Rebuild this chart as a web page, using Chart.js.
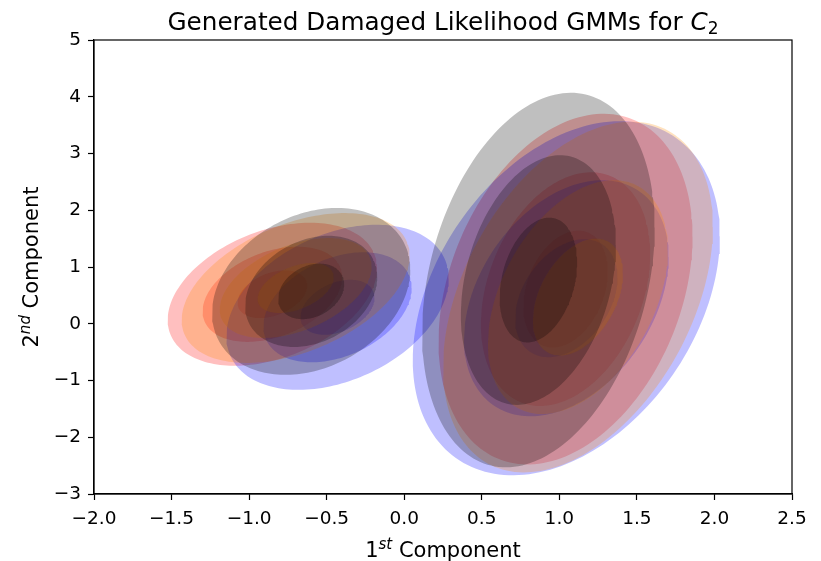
<!DOCTYPE html>
<html>
<head>
<meta charset="utf-8">
<script src="https://cdn.jsdelivr.net/npm/chart.js@4.4.0/dist/chart.umd.min.js"></script>
<style>
  html, body { margin: 0; padding: 0; background: #fff; }
  #wrap { width: 821px; height: 561px; }
</style>
</head>
<body>
<div id="wrap"><canvas id="chart" width="821" height="561"></canvas></div>
<script>
// Axis ticks
const xTicks = [-2.0, -1.5, -1.0, -0.5, 0.0, 0.5, 1.0, 1.5, 2.0, 2.5];
const yTicks = [-3, -2, -1, 0, 1, 2, 3, 4, 5];

// GMM components, one per colour and cluster (1-sigma half extents, correlation)
const compColor = ['red', 'red', 'blue', 'blue', 'darkorange', 'darkorange', 'black', 'black'];
const compX   = [-0.85, 1.04, -0.43, 1.045, -0.70, 1.12, -0.60, 0.865];
const compY   = [0.52, 0.61, 0.29, 0.45, 0.63, 0.47, 0.57, 0.77];
const compRx  = [0.225, 0.273, 0.239, 0.33, 0.245, 0.29, 0.213, 0.25];
const compRy  = [0.42, 1.03, 0.485, 1.04, 0.44, 1.03, 0.49, 1.10];
const compRho = [0.36, 0.30, 0.35, 0.35, 0.43, 0.40, 0.26, 0.28];
const sigmaLevels = [1, 2, 3];

const FONT = "'DejaVu Sans', sans-serif";
const fillColors = {
    black: 'rgba(0, 0, 0, 0.25)',
    red: 'rgba(255, 0, 0, 0.25)',
    darkorange: 'rgba(255, 140, 0, 0.25)',
    blue: 'rgba(0, 0, 255, 0.25)'
};

// Outline of an ellipse given its bounding half extents and tilt
function ellipsePoints(cx, cy, rx, ry, rho) {
    const pts = [];
    const s = Math.sqrt(1 - rho * rho);
    for (let k = 0; k <= 180; k++) {
        const t = 2 * Math.PI * k / 180;
        pts.push({
            x: cx + rx * Math.cos(t),
            y: cy + ry * (rho * Math.cos(t) + s * Math.sin(t))
        });
    }
    return pts;
}

// Build the datasets, drawn in the order they are listed
const datasets = [];
for (let i = 0; i < compColor.length; i++) {
    for (const n of sigmaLevels) {
        datasets.push({
            data: ellipsePoints(compX[i], compY[i], n * compRx[i], n * compRy[i], compRho[i]),
            showLine: true,
            fill: 'shape',
            backgroundColor: fillColors[compColor[i]],
            borderColor: 'transparent',
            borderWidth: 0,
            pointRadius: 0,
            pointHoverRadius: 0
        });
    }
}
datasets.forEach((d, i) => { d.order = datasets.length - i; });

function fmt(v, digits) {
    return (v < 0 ? '\u2212' : '') + Math.abs(v).toFixed(digits);
}

// Draw runs of text with mixed styles, centred on x
function drawRuns(ctx, runs, x, y) {
    let total = 0;
    runs.forEach(r => { ctx.font = r.font; r.w = ctx.measureText(r.text).width; total += r.w; });
    let cx = x - total / 2;
    ctx.textAlign = 'left';
    ctx.textBaseline = 'alphabetic';
    runs.forEach(r => {
        ctx.font = r.font;
        ctx.fillText(r.text, cx, y + (r.dy || 0));
        cx += r.w;
    });
}

const decorPlugin = {
    id: 'decor',
    afterDraw(chart) {
        const ctx = chart.ctx;
        const a = chart.chartArea;
        ctx.save();
        // Frame
        ctx.strokeStyle = '#000';
        ctx.lineWidth = 1.2;
        ctx.strokeRect(a.left, a.top, a.right - a.left, a.bottom - a.top);
        ctx.fillStyle = '#000';
        const mid = (a.left + a.right) / 2;
        // Title
        drawRuns(ctx, [
            { text: 'Generated Damaged Likelihood GMMs for ', font: '24.7px ' + FONT },
            { text: 'C', font: 'italic 24.7px ' + FONT },
            { text: '2', font: '17px ' + FONT, dy: 4 }
        ], mid, 30);
        // X label
        drawRuns(ctx, [
            { text: '1', font: '21px ' + FONT },
            { text: 'st', font: 'italic 15px ' + FONT, dy: -8 },
            { text: ' Component', font: '21px ' + FONT }
        ], mid, 557);
        // Y label
        ctx.translate(38, (a.top + a.bottom) / 2);
        ctx.rotate(-Math.PI / 2);
        drawRuns(ctx, [
            { text: '2', font: '21px ' + FONT },
            { text: 'nd', font: 'italic 15px ' + FONT, dy: -8 },
            { text: ' Component', font: '21px ' + FONT }
        ], 0, 0);
        ctx.restore();
    }
};

const axisCommon = {
    type: 'linear',
    grid: {
        display: true,
        drawOnChartArea: false,
        drawTicks: true,
        tickLength: 6,
        tickColor: '#000',
        tickWidth: 1.2
    },
    border: { display: true, color: '#000', width: 1.2 }
};

new Chart(document.getElementById('chart'), {
    type: 'scatter',
    data: { datasets: datasets },
    options: {
        responsive: false,
        animation: false,
        events: [],
        layout: { padding: { left: 0, right: 29, top: 40, bottom: 0 } },
        plugins: {
            legend: { display: false },
            tooltip: { enabled: false },
            title: { display: false }
        },
        scales: {
            x: Object.assign({}, axisCommon, {
                min: -2, max: 2.5,
                afterBuildTicks: s => { s.ticks = xTicks.map(v => ({ value: v })); },
                afterFit: s => { s.height = 67; },
                ticks: {
                    callback: v => fmt(v, 1),
                    font: { family: FONT, size: 18.5 },
                    color: '#000',
                    padding: 8,
                    maxRotation: 0,
                    autoSkip: false
                }
            }),
            y: Object.assign({}, axisCommon, {
                min: -3, max: 5,
                afterBuildTicks: s => { s.ticks = yTicks.map(v => ({ value: v })); },
                afterFit: s => { s.width = 94; },
                ticks: {
                    callback: v => fmt(v, 0),
                    font: { family: FONT, size: 18.5 },
                    color: '#000',
                    padding: 7,
                    autoSkip: false
                }
            })
        }
    },
    plugins: [decorPlugin]
});
</script>
</body>
</html>
